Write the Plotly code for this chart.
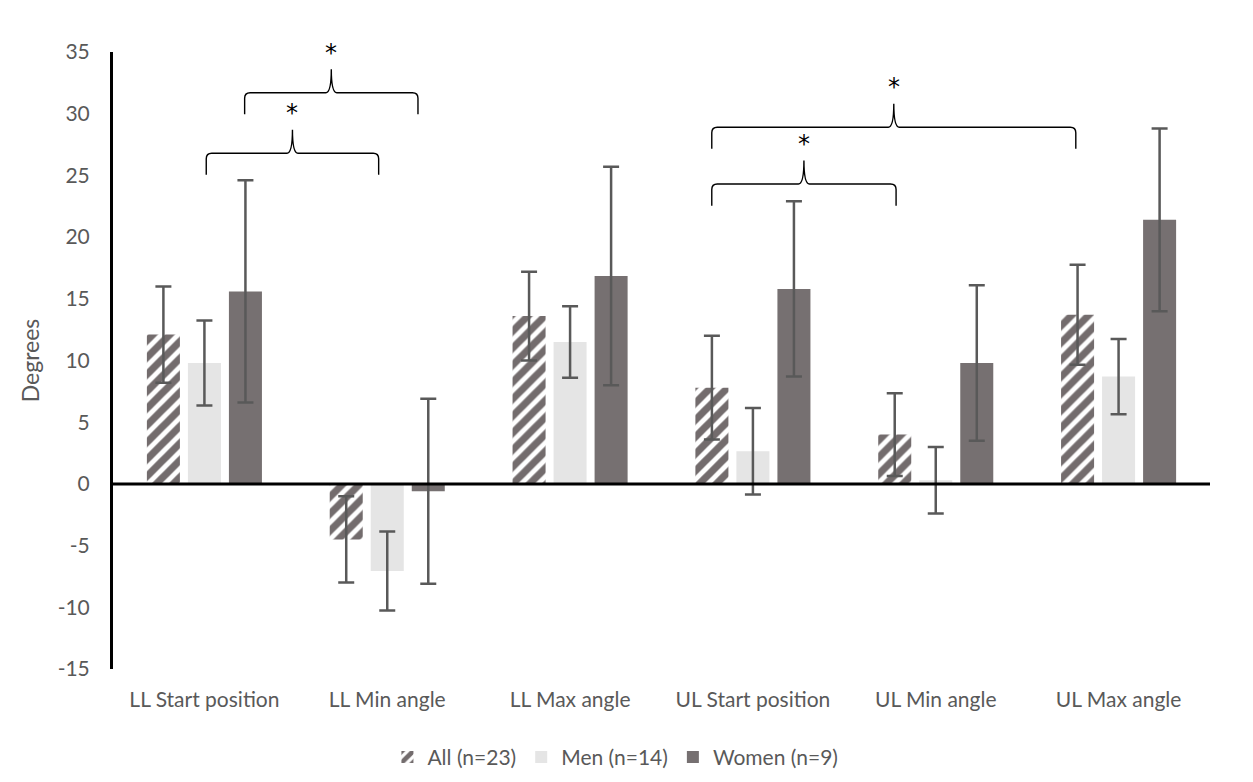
import plotly.graph_objects as go

categories = ["LL Start position", "LL Min angle", "LL Max angle",
              "UL Start position", "UL Min angle", "UL Max angle"]
series_names = ["All (n=23)", "Men (n=14)", "Women (n=9)"]
all_vals = [12.1, -4.5, 13.6, 7.8, 4.0, 13.7]
all_err = [3.9, 3.5, 3.6, 4.2, 3.35, 4.05]
men_vals = [9.8, -7.05, 11.5, 2.65, 0.3, 8.7]
men_err = [3.45, 3.2, 2.9, 3.5, 2.7, 3.05]
women_vals = [15.6, -0.6, 16.85, 15.8, 9.8, 21.4]
women_err = [9.0, 7.5, 8.85, 7.1, 6.3, 7.4]
y_ticks = [-15, -10, -5, 0, 5, 10, 15, 20, 25, 30, 35]
y_tick_text = ["-15", "-10", "-5", "0", "5", "10", "15", "20", "25", "30", "35"]

# significance braces: start x, end x (category units), height of bar line
brace_x0 = [0.01, 0.22, 2.775, 2.775]
brace_x1 = [0.953, 1.168, 4.766, 3.783]
brace_y = [26.8, 31.7, 28.9, 24.3]
brace_label = ["*", "*", "*", "*"]

xs = list(range(len(categories)))
TXT = "#595959"
FONT = "Lato, 'Open Sans', sans-serif"

fig = go.Figure()
err_style = dict(type="data", color="#595959", thickness=2.5, width=8)

fig.add_trace(go.Bar(
    x=xs, y=all_vals, name=series_names[0],
    error_y=dict(array=all_err, **err_style),
    marker=dict(color="white", line=dict(width=0),
                pattern=dict(shape="/", fgcolor="#736c6d", bgcolor="white",
                             fgopacity=1, size=12, solidity=0.6)),
))
fig.add_trace(go.Bar(
    x=xs, y=men_vals, name=series_names[1],
    error_y=dict(array=men_err, **err_style),
    marker=dict(color="#e5e5e5", line=dict(width=0)),
))
fig.add_trace(go.Bar(
    x=xs, y=women_vals, name=series_names[2],
    error_y=dict(array=women_err, **err_style),
    marker=dict(color="#767071", line=dict(width=0)),
))

shapes = []
annotations = []
dx_end = 0.03   # horizontal size of end curl
dy_end = 0.45
drop = 1.75     # length of end legs
rise = 1.9      # height of central cusp
dx_mid = 0.03
for x0, x1, yh, lab in zip(brace_x0, brace_x1, brace_y, brace_label):
    xm = (x0 + x1) / 2
    path = (
        f"M {x0},{yh - drop} L {x0},{yh - dy_end} "
        f"Q {x0},{yh} {x0 + dx_end},{yh} "
        f"L {xm - dx_mid},{yh} Q {xm},{yh} {xm},{yh + rise} "
        f"Q {xm},{yh} {xm + dx_mid},{yh} "
        f"L {x1 - dx_end},{yh} Q {x1},{yh} {x1},{yh - dy_end} "
        f"L {x1},{yh - drop}"
    )
    shapes.append(dict(type="path", path=path, xref="x", yref="y",
                       line=dict(color="black", width=1.4), layer="above"))
    annotations.append(dict(x=xm, y=yh + rise + 0.05, xref="x", yref="y",
                            text=lab, showarrow=False, yanchor="bottom",
                            font=dict(size=24, color="black", family="DejaVu Sans")))

# zero line across plot
shapes.append(dict(type="line", xref="paper", yref="y", x0=0, x1=1, y0=0, y1=0,
                   line=dict(color="black", width=3), layer="above"))

fig.update_layout(
    width=1253, height=782,
    margin=dict(l=105, r=51, t=44, b=121),
    paper_bgcolor="white", plot_bgcolor="white",
    barmode="group", bargap=0.327, bargroupgap=0.195,
    font=dict(family=FONT, size=21, color=TXT),
    showlegend=True,
    legend=dict(orientation="h", x=0.458, xanchor="center", y=-0.143,
                yanchor="middle", font=dict(size=21, color=TXT),
                traceorder="normal", itemwidth=30),
    shapes=shapes, annotations=annotations,
)
fig.update_xaxes(range=[-0.5, 5.5], tickvals=xs, ticktext=categories,
                 showgrid=False, zeroline=False, showline=False,
                 ticks="outside", ticklen=12, tickcolor="rgba(0,0,0,0)",
                 tickfont=dict(size=21, color=TXT))
fig.update_yaxes(range=[-15, 35], tickvals=y_ticks, ticktext=y_tick_text,
                 showgrid=False, zeroline=False,
                 showline=True, linecolor="black", linewidth=3,
                 ticks="outside", ticklen=16, tickcolor="rgba(0,0,0,0)",
                 tickfont=dict(size=21, color=TXT),
                 title=dict(text="Degrees", font=dict(size=23, color=TXT), standoff=12))

fig.write_html("out.html")
